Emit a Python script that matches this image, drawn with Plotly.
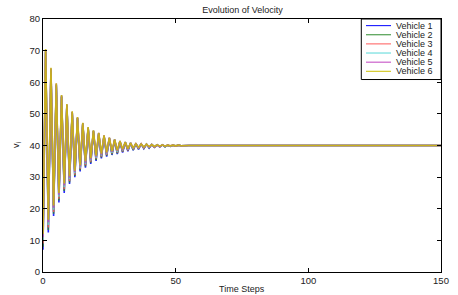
import plotly.graph_objects as go

# ---- data ----
time_steps = list(range(151))
steady_tail = [40.0] * 97  # after step 53 every vehicle sits at 40

vehicle_1 = [7.0, 69.5, 12.5, 63.8, 17.7, 59.0, 22.0, 55.4, 25.0, 52.6, 27.8, 50.4, 30.0, 48.6, 31.8, 46.9,
             33.0, 45.5, 34.2, 44.5, 35.1, 43.8, 35.9, 43.0, 36.5, 42.3, 37.0, 41.8, 37.3, 41.3, 37.8, 41.0,
             38.2, 40.8, 38.5, 40.6, 38.8, 40.5, 39.0, 40.4, 39.2, 40.3, 39.4, 40.2, 39.5, 40.2, 39.6, 40.1,
             39.7, 40.1, 39.8, 40.1, 39.9, 40.0]
vehicle_2 = [8.0, 69.7, 13.3, 64.0, 18.4, 59.1, 22.6, 55.5, 25.6, 52.7, 28.3, 50.5, 30.4, 48.7, 32.2, 47.0,
             33.4, 45.6, 34.6, 44.6, 35.4, 43.8, 36.2, 43.0, 36.8, 42.3, 37.2, 41.8, 37.5, 41.3, 38.0, 41.0,
             38.4, 40.8, 38.6, 40.6, 38.9, 40.5, 39.1, 40.4, 39.3, 40.3, 39.5, 40.2, 39.6, 40.2, 39.6, 40.1,
             39.7, 40.1, 39.8, 40.1, 39.9, 40.0]
vehicle_3 = [9.0, 69.9, 14.1, 64.1, 19.0, 59.3, 23.2, 55.6, 26.2, 52.8, 28.8, 50.6, 30.8, 48.8, 32.6, 47.0,
             33.8, 45.6, 34.9, 44.6, 35.8, 43.9, 36.5, 43.1, 37.0, 42.4, 37.5, 41.8, 37.8, 41.3, 38.2, 41.0,
             38.5, 40.8, 38.8, 40.6, 39.0, 40.5, 39.2, 40.4, 39.4, 40.3, 39.5, 40.2, 39.6, 40.2, 39.7, 40.1,
             39.8, 40.1, 39.8, 40.1, 39.9, 40.0]
vehicle_4 = [10.0, 70.1, 14.9, 64.3, 19.7, 59.4, 23.8, 55.8, 26.8, 52.9, 29.3, 50.6, 31.2, 48.8, 33.0, 47.1,
             34.2, 45.7, 35.3, 44.7, 36.1, 43.9, 36.8, 43.1, 37.3, 42.4, 37.7, 41.9, 38.0, 41.4, 38.4, 41.1,
             38.7, 40.8, 38.9, 40.6, 39.2, 40.5, 39.3, 40.4, 39.4, 40.3, 39.6, 40.2, 39.7, 40.2, 39.7, 40.1,
             39.8, 40.1, 39.9, 40.1, 39.9, 40.0]
vehicle_5 = [11.0, 70.3, 15.7, 64.4, 20.3, 59.6, 24.4, 55.9, 27.4, 53.0, 29.8, 50.7, 31.6, 48.9, 33.4, 47.1,
             34.6, 45.7, 35.6, 44.7, 36.5, 44.0, 37.1, 43.2, 37.5, 42.5, 38.0, 41.9, 38.3, 41.4, 38.6, 41.1,
             38.8, 40.8, 39.1, 40.6, 39.3, 40.5, 39.4, 40.4, 39.5, 40.3, 39.6, 40.2, 39.7, 40.2, 39.8, 40.1,
             39.9, 40.1, 39.9, 40.1, 39.9, 40.0]
vehicle_6 = [12.0, 70.5, 16.5, 64.6, 21.0, 59.7, 25.0, 56.0, 28.0, 53.1, 30.3, 50.8, 32.0, 49.0, 33.8, 47.2,
             35.0, 45.8, 36.0, 44.8, 36.8, 44.0, 37.4, 43.2, 37.8, 42.5, 38.2, 41.9, 38.5, 41.4, 38.8, 41.1,
             39.0, 40.8, 39.2, 40.6, 39.4, 40.5, 39.5, 40.4, 39.6, 40.3, 39.7, 40.2, 39.8, 40.2, 39.8, 40.1,
             39.9, 40.1, 39.9, 40.1, 39.9, 40.0]

series_names = ["Vehicle 1", "Vehicle 2", "Vehicle 3", "Vehicle 4", "Vehicle 5", "Vehicle 6"]
series_values = [vehicle_1, vehicle_2, vehicle_3, vehicle_4, vehicle_5, vehicle_6]
series_colors = ["#0000ff", "#2e8b2e", "#ff5a5a", "#55d8d8", "#c040c0", "#ccc000"]

x_ticks = [0, 50, 100, 150]
y_ticks = [0, 10, 20, 30, 40, 50, 60, 70, 80]

# ---- figure ----
W, H = 458, 295
ML, MR, MT, MB = 43, 9, 19, 21
FONT = "Liberation Sans, Arial, Helvetica, sans-serif"
TXT = "#222222"

fig = go.Figure()
for name, vals, col in zip(series_names, series_values, series_colors):
    fig.add_trace(go.Scatter(x=time_steps, y=vals + steady_tail, mode="lines", name=name,
                             line=dict(color=col, width=1.6), opacity=0.85, showlegend=False))

axis_common = dict(showline=True, linecolor="black", linewidth=1, mirror="ticks",
                   ticks="inside", ticklen=4, tickcolor="black", tickwidth=1,
                   showgrid=False, zeroline=False,
                   tickfont=dict(family=FONT, size=9.5, color=TXT))
fig.update_xaxes(range=[0, 150], tickvals=x_ticks, **axis_common)
fig.update_yaxes(range=[0, 80], tickvals=y_ticks, **axis_common)

pw = W - ML - MR
ph = H - MT - MB

def px_x(px):
    return (px - ML) / pw

def px_y(py):
    return (H - MB - py) / ph

shapes = []
annotations = []
# legend box
shapes.append(dict(type="rect", xref="paper", yref="paper",
                   x0=px_x(367.7), x1=1.0, y0=px_y(80), y1=1.0,
                   line=dict(color="black", width=1), fillcolor="white", layer="above"))
row_centers = [25.7, 34.9, 44.1, 53.3, 62.5, 71.7]
for name, col, yc in zip(series_names, series_colors, row_centers):
    shapes.append(dict(type="line", xref="paper", yref="paper",
                       x0=px_x(372.5), x1=px_x(398), y0=px_y(yc), y1=px_y(yc),
                       line=dict(color=col, width=1), layer="above"))
    annotations.append(dict(xref="paper", yref="paper", x=px_x(401), y=px_y(yc),
                            xanchor="left", yanchor="middle", showarrow=False, text=name,
                            font=dict(family=FONT, size=9, color=TXT)))

# axis titles
annotations.append(dict(xref="paper", yref="paper", x=0.5, y=px_y(291),
                        xanchor="center", yanchor="middle", showarrow=False, text="Time Steps",
                        font=dict(family=FONT, size=9, color=TXT)))
annotations.append(dict(xref="paper", yref="paper", x=px_x(16), y=0.5,
                        xanchor="center", yanchor="middle", showarrow=False, text="v<sub>i</sub>",
                        textangle=-90, font=dict(family=FONT, size=9, color=TXT)))

fig.update_layout(
    width=W, height=H,
    margin=dict(l=ML, r=MR, t=MT, b=MB, pad=0),
    paper_bgcolor="white", plot_bgcolor="white",
    title=dict(text="Evolution of Velocity", x=px_x(246.5), xref="paper", xanchor="center",
               y=1 - 10 / H, yref="container", yanchor="middle",
               font=dict(family=FONT, size=9, color=TXT)),
    shapes=shapes, annotations=annotations,
    showlegend=False,
)

fig.write_html("out.html", config={"displayModeBar": False},
               post_script="document.body.style.margin='0';document.body.style.padding='0';"
                           "document.documentElement.style.overflow='hidden';")
